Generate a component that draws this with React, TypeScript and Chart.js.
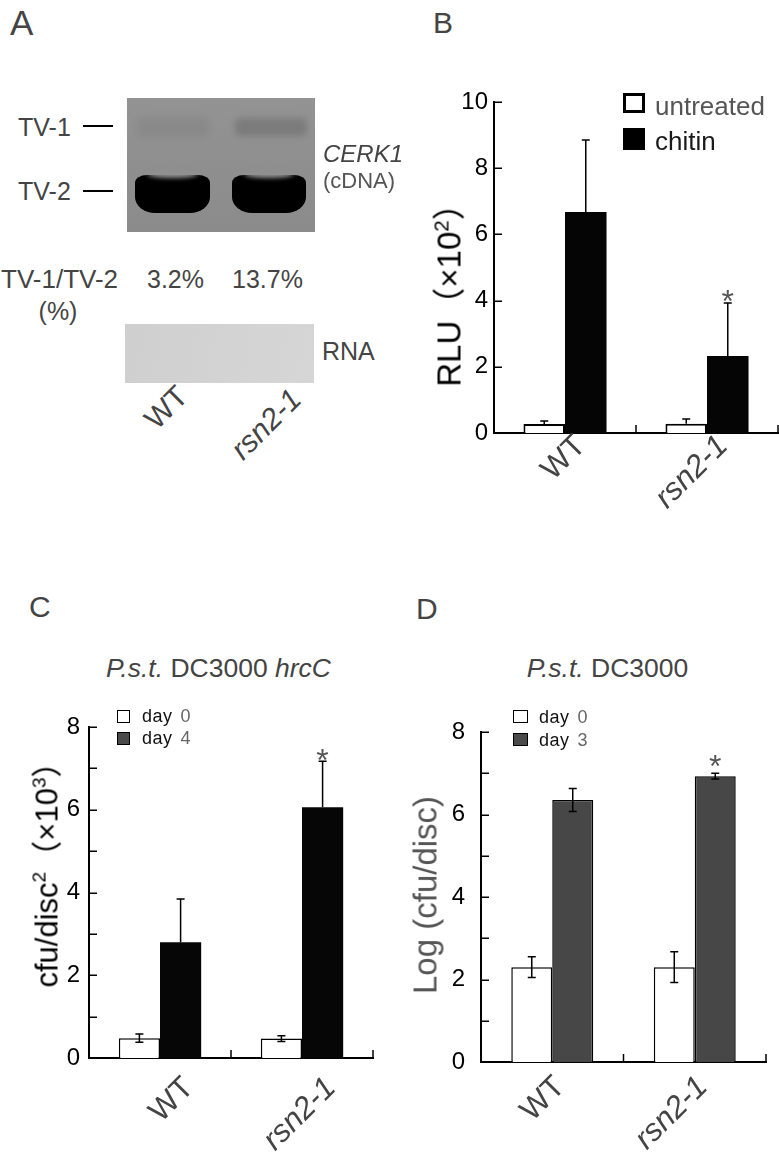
import React, { useEffect, useRef } from 'react';
import { Chart, registerables } from 'chart.js';

Chart.register(...registerables);

const FONT = '"Liberation Sans", Arial, Helvetica, sans-serif';
const CJK = '"Liberation Sans", Arial, "Noto Sans CJK SC", sans-serif';

// ---------- data ----------
const categories = ['WT', 'rsn2-1'];

// Panel A (gel)
const tvRatios = ['3.2%', '13.7%'];

// Panel B: RLU (x10^2)
const rluTicks = [0, 2, 4, 6, 8, 10];
const rluUntreated = [0.27, 0.28];
const rluUntreatedErr = [0.09, 0.14];
const rluChitin = [6.68, 2.33];
const rluChitinErr = [2.17, 1.6];
const rluSignificant = [false, true];

// Panel C: P.s.t. DC3000 hrcC, cfu/disc^2 (x10^3)
const hrcTicks = [0, 2, 4, 6, 8];
const hrcDay0 = [0.48, 0.47];
const hrcDay0Err = [0.1, 0.07];
const hrcDay4 = [2.8, 6.06];
const hrcDay4Err = [1.04, 1.11];
const hrcSignificant = [false, true];

// Panel D: P.s.t. DC3000, Log(cfu/disc)
const dcTicks = [0, 2, 4, 6, 8];
const dcDay0 = [2.3, 2.3];
const dcDay0Err = [0.25, 0.37];
const dcDay3 = [6.35, 6.93];
const dcDay3Err = [0.28, 0.07];
const dcSignificant = [false, true];

// ---------- plugins ----------
const errorBarPlugin = {
  id: 'errorBars',
  afterDatasetsDraw(chart: any, _a: any, opts: any) {
    const { ctx } = chart;
    const ys = chart.scales.y;
    ctx.save();
    ctx.strokeStyle = '#000';
    ctx.lineWidth = 1.5;
    const cap = opts.cap;
    chart.data.datasets.forEach((ds: any, di: number) => {
      const meta = chart.getDatasetMeta(di);
      meta.data.forEach((bar: any, i: number) => {
        const v = ds.data[i];
        const e = ds.errors[i];
        const top = ys.getPixelForValue(v + e);
        const bottom = ds.errorMode === 'both' ? ys.getPixelForValue(v - e) : bar.y;
        ctx.beginPath();
        ctx.moveTo(bar.x, bottom);
        ctx.lineTo(bar.x, top);
        ctx.moveTo(bar.x - cap, top);
        ctx.lineTo(bar.x + cap, top);
        if (ds.errorMode === 'both') {
          ctx.moveTo(bar.x - cap, bottom);
          ctx.lineTo(bar.x + cap, bottom);
        }
        ctx.stroke();
      });
    });
    const last = chart.data.datasets.length - 1;
    const lds = chart.data.datasets[last];
    const lmeta = chart.getDatasetMeta(last);
    ctx.fillStyle = opts.starColor;
    ctx.font = `${opts.starSize}px ${FONT}`;
    ctx.textAlign = 'center';
    ctx.textBaseline = 'alphabetic';
    (opts.significant as boolean[]).forEach((sig, i) => {
      if (!sig) return;
      const bar = lmeta.data[i];
      const top = ys.getPixelForValue(lds.data[i] + lds.errors[i]);
      ctx.fillText('*', bar.x, top + opts.starOffset);
    });
    ctx.restore();
  },
};

const axisDecorPlugin = {
  id: 'axisDecor',
  afterDraw(chart: any, _a: any, opts: any) {
    const { ctx, chartArea } = chart;
    const x = chart.scales.x;
    const y = chart.scales.y;
    const len = opts.tickLength;
    ctx.save();
    ctx.strokeStyle = '#000';
    ctx.lineWidth = 1.5;
    ctx.beginPath();
    y.ticks.forEach((t: any) => {
      const py = Math.round(y.getPixelForValue(t.value)) + 0.25;
      ctx.moveTo(chartArea.left, py);
      ctx.lineTo(chartArea.left + len, py);
    });
    const n = x.ticks.length;
    for (let i = 1; i <= n; i++) {
      const px = x.getPixelForValue(i - 0.5);
      ctx.moveTo(px, chartArea.bottom);
      ctx.lineTo(px, chartArea.bottom - len);
    }
    ctx.stroke();
    ctx.restore();
  },
};

type DS = { label: string; data: number[]; errors: number[]; mode: 'up' | 'both'; bg: string; border: string; bw: number };

function buildConfig(o: any): any {
  return {
    type: 'bar',
    data: {
      labels: categories,
      datasets: (o.ds as DS[]).map((d) => ({
        label: d.label,
        data: d.data,
        errors: d.errors,
        errorMode: d.mode,
        backgroundColor: d.bg,
        borderColor: d.border,
        borderWidth: d.bw,
        barPercentage: 1,
        categoryPercentage: o.catPct,
      })),
    },
    options: {
      animation: false,
      responsive: false,
      devicePixelRatio: 1,
      layout: { padding: { top: o.padTop, right: o.padRight, left: 0, bottom: 0 } },
      plugins: {
        legend: { display: false },
        tooltip: { enabled: false },
        errorBars: { significant: o.significant, starOffset: o.starOffset, starSize: 32, starColor: '#555', cap: 4 },
        axisDecor: { tickLength: 8 },
      },
      scales: {
        x: {
          grid: { display: false, drawTicks: false },
          border: { display: true, color: '#000', width: 2 },
          ticks: {
            color: '#444',
            autoSkip: false,
            minRotation: 45,
            maxRotation: 45,
            labelOffset: o.xOffset,
            padding: o.xPad,
            font: (c: any) => ({ family: FONT, size: 31, style: c.index === 1 ? 'italic' : 'normal' }),
          },
          afterFit: (s: any) => {
            s.height = o.xHeight;
          },
        },
        y: {
          min: 0,
          max: o.yMax,
          grid: { display: false, drawTicks: false },
          border: { display: true, color: '#000', width: 2 },
          ticks: {
            stepSize: o.yStep,
            color: '#000',
            padding: o.yPad,
            font: { family: FONT, size: 24 },
            callback: (v: number) => ((o.yLabels as number[]).includes(v) ? String(v) : ''),
          },
          afterFit: (s: any) => {
            s.width = o.yWidth;
          },
        },
      },
    },
    plugins: [errorBarPlugin, axisDecorPlugin],
  };
}

function BarCanvas({ left, top, width, height, cfg }: any) {
  const ref = useRef<HTMLCanvasElement>(null);
  useEffect(() => {
    const chart = new Chart(ref.current as HTMLCanvasElement, buildConfig(cfg));
    return () => chart.destroy();
  }, []);
  return <canvas ref={ref} width={width} height={height} style={{ position: 'absolute', left, top, width, height, display: 'block' }} />;
}

// ---------- text helpers ----------
function Txt({ x, base, size, color = '#444', italic = false, center = false, children }: any) {
  const style: any = {
    position: 'absolute',
    left: x,
    top: base - 0.8465 * size,
    fontSize: size,
    lineHeight: `${size}px`,
    color,
    fontStyle: italic ? 'italic' : 'normal',
    whiteSpace: 'nowrap',
    fontFamily: FONT,
  };
  if (center) style.transform = 'translateX(-50%)';
  return <div style={style}>{children}</div>;
}

function VText({ cx, cy, size, color, children }: any) {
  return (
    <div
      style={{
        position: 'absolute',
        left: cx,
        top: cy,
        transform: 'translate(-50%,-50%) rotate(-90deg)',
        fontSize: size,
        lineHeight: `${size}px`,
        whiteSpace: 'nowrap',
        color,
        fontFamily: CJK,
      }}
    >
      {children}
    </div>
  );
}

function DiagText({ x, y, size, italic, children }: any) {
  return (
    <div style={{ position: 'absolute', left: x, top: y, width: 0, height: 0 }}>
      <div
        style={{
          position: 'absolute',
          right: 0,
          top: -size / 2,
          fontSize: size,
          lineHeight: `${size}px`,
          color: '#444',
          fontStyle: italic ? 'italic' : 'normal',
          fontFamily: FONT,
          whiteSpace: 'nowrap',
          transformOrigin: 'right center',
          transform: 'rotate(-45deg)',
        }}
      >
        {children}
      </div>
    </div>
  );
}

const Sup = ({ children }: any) => (
  <span style={{ fontSize: '0.62em', position: 'relative', top: '-0.6em' }}>{children}</span>
);

function Box({ x, y, w, h, bg, bw = 1, bc = '#000' }: any) {
  return (
    <div
      style={{ position: 'absolute', left: x, top: y, width: w, height: h, background: bg, border: `${bw}px solid ${bc}`, boxSizing: 'border-box' }}
    />
  );
}

function LegendRow({ x, base, label, num }: any) {
  return (
    <div style={{ position: 'absolute', left: x, top: base - 0.8465 * 18, fontSize: 18, lineHeight: '18px', fontFamily: FONT, whiteSpace: 'nowrap' }}>
      <span style={{ color: '#111', letterSpacing: '0.5px' }}>{label}</span>
      <span style={{ color: '#666', marginLeft: 8 }}>{num}</span>
    </div>
  );
}

export default function App() {
  const cfgB = {
    ds: [
      { label: 'untreated', data: rluUntreated, errors: rluUntreatedErr, mode: 'up', bg: '#fff', border: '#000', bw: 2 },
      { label: 'chitin', data: rluChitin, errors: rluChitinErr, mode: 'up', bg: '#050505', border: '#050505', bw: 0 },
    ],
    catPct: 0.585,
    padTop: 42,
    padRight: 1,
    yWidth: 104,
    xHeight: 107,
    yMax: 10,
    yStep: 2,
    yLabels: rluTicks,
    yPad: 6,
    xOffset: 16,
    xPad: -5,
    significant: rluSignificant,
    starOffset: 9,
  };
  const cfgC = {
    ds: [
      { label: 'day 0', data: hrcDay0, errors: hrcDay0Err, mode: 'both', bg: '#fff', border: '#000', bw: 1.5 },
      { label: 'day 4', data: hrcDay4, errors: hrcDay4Err, mode: 'up', bg: '#060606', border: '#060606', bw: 0 },
    ],
    catPct: 0.58,
    padTop: 27,
    padRight: 16,
    yWidth: 89,
    xHeight: 100,
    yMax: 8,
    yStep: 1,
    yLabels: hrcTicks,
    yPad: 9,
    xOffset: 29,
    xPad: 12,
    significant: hrcSignificant,
    starOffset: 10,
  };
  const cfgD = {
    ds: [
      { label: 'day 0', data: dcDay0, errors: dcDay0Err, mode: 'both', bg: '#fff', border: '#000', bw: 1.5 },
      { label: 'day 3', data: dcDay3, errors: dcDay3Err, mode: 'both', bg: '#474747', border: '#000', bw: 1.5 },
    ],
    catPct: 0.575,
    padTop: 32,
    padRight: 13,
    yWidth: 91,
    xHeight: 96,
    yMax: 8,
    yStep: 1,
    yLabels: dcTicks,
    yPad: 16,
    xOffset: 8,
    xPad: 7,
    significant: dcSignificant,
    starOffset: 4,
  };

  return (
    <div style={{ position: 'absolute', left: 0, top: 0, width: 779, height: 1158, background: '#fff', overflow: 'hidden', fontFamily: FONT }}>
      <BarCanvas left={390} top={60} width={389} height={480} cfg={cfgB} />
      <BarCanvas left={0} top={700} width={389} height={458} cfg={cfgC} />
      <BarCanvas left={390} top={700} width={389} height={458} cfg={cfgD} />

      {/* Panel letters */}
      <Txt x={10} base={35} size={35}>A</Txt>
      <Txt x={433} base={33} size={30}>B</Txt>
      <Txt x={29} base={617} size={30}>C</Txt>
      <Txt x={416} base={619} size={30}>D</Txt>

      {/* Panel A: gel */}
      <Txt x={18} base={136} size={25}>TV-1</Txt>
      <Txt x={18} base={200} size={25}>TV-2</Txt>
      <div style={{ position: 'absolute', left: 83, top: 125, width: 30, height: 2, background: '#000' }} />
      <div style={{ position: 'absolute', left: 83, top: 189.5, width: 30, height: 2, background: '#000' }} />
      <div style={{ position: 'absolute', left: 127, top: 98, width: 188, height: 134, background: 'linear-gradient(#939393, #8b8b8b)', overflow: 'hidden' }}>
        <div style={{ position: 'absolute', left: 10, top: 19, width: 72, height: 20, background: 'rgba(0,0,0,0.05)', filter: 'blur(3px)', borderRadius: 6 }} />
        <div style={{ position: 'absolute', left: 108, top: 20, width: 72, height: 18, background: 'rgba(0,0,0,0.15)', filter: 'blur(3px)', borderRadius: 6 }} />
        <div style={{ position: 'absolute', left: 8, top: 77, width: 75, height: 38, background: '#000', borderRadius: '12px 12px 20px 20px / 8px 8px 16px 16px', filter: 'blur(0.7px)' }} />
        <div style={{ position: 'absolute', left: 105, top: 77, width: 74, height: 38, background: '#000', borderRadius: '12px 12px 20px 20px / 8px 8px 16px 16px', filter: 'blur(0.7px)' }} />
        <div style={{ position: 'absolute', left: 20, top: 73, width: 51, height: 7, borderRadius: '50%', background: '#909090', filter: 'blur(2px)' }} />
        <div style={{ position: 'absolute', left: 117, top: 73, width: 50, height: 7, borderRadius: '50%', background: '#909090', filter: 'blur(2px)' }} />
      </div>
      <Txt x={323} base={162} size={24} italic>CERK1</Txt>
      <Txt x={323} base={189} size={22} color="#555">(cDNA)</Txt>

      <Txt x={1} base={288} size={26}>TV-1/TV-2</Txt>
      <Txt x={58} base={320} size={25} center>(%)</Txt>
      <Txt x={147} base={288} size={25}>{tvRatios[0]}</Txt>
      <Txt x={232} base={288} size={25}>{tvRatios[1]}</Txt>

      <div style={{ position: 'absolute', left: 125, top: 324, width: 189, height: 59, background: 'linear-gradient(100deg, #cfcfcf, #d6d6d6)' }} />
      <Txt x={322} base={360} size={25}>RNA</Txt>
      <DiagText x={183} y={391} size={30}>{categories[0]}</DiagText>
      <DiagText x={296} y={394} size={30} italic>{categories[1]}</DiagText>

      {/* Panel B */}
      <VText cx={451} cy={287} size={33} color="#000">
        RLU（×10<Sup>2</Sup>）
      </VText>
      <Box x={623} y={93} w={22} h={20} bg="#fff" bw={3} />
      <Box x={623} y={128} w={22} h={22} bg="#000" bw={0} />
      <Txt x={655} base={115} size={26} color="#555">untreated</Txt>
      <Txt x={655} base={150} size={26} color="#1a1a1a">chitin</Txt>

      {/* Panel C */}
      <Txt x={218.5} base={677} size={26.5} center>
        <i>P.s.t.</i> DC3000 <i>hrcC</i>
      </Txt>
      <Box x={117} y={710} w={13} h={13} bg="#fff" bw={1.2} />
      <Box x={117} y={732} w={13} h={13} bg="#4a4a4a" bw={1} />
      <LegendRow x={142} base={722} label="day" num="0" />
      <LegendRow x={142} base={744} label="day" num="4" />
      <VText cx={49} cy={867} size={31} color="#000">
        cfu/disc<Sup>2</Sup>（×10<Sup>3</Sup>）
      </VText>

      {/* Panel D */}
      <Txt x={607.5} base={677} size={26.5} center>
        <i>P.s.t.</i> DC3000
      </Txt>
      <Box x={513} y={710} w={15} h={13} bg="#fff" bw={1.2} />
      <Box x={513} y={733} w={15} h={13} bg="#4a4a4a" bw={1} />
      <LegendRow x={539} base={723} label="day" num="0" />
      <LegendRow x={539} base={746} label="day" num="3" />
      <VText cx={425} cy={895} size={33} color="#555">
        Log (cfu/disc)
      </VText>
    </div>
  );
}
